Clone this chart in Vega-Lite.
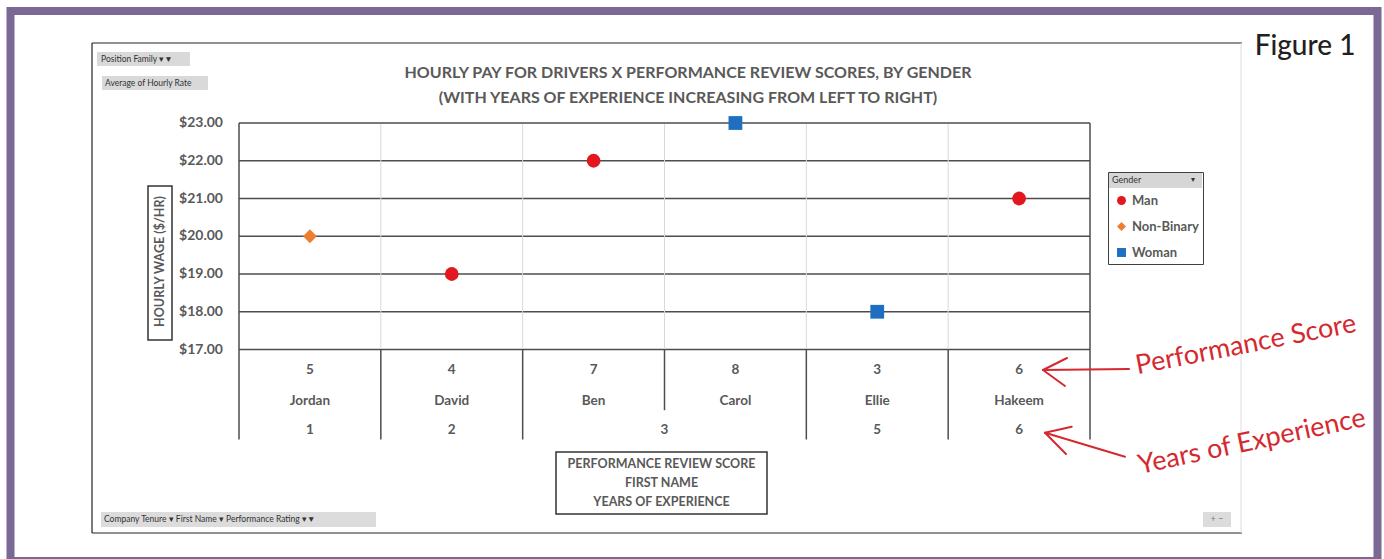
{
  "$schema": "https://vega.github.io/schema/vega-lite/v6.json",
  "width": 1367,
  "height": 550,
  "autosize": {"type": "none"},
  "padding": {"left": 10.5, "top": 11, "right": 6.5, "bottom": 0},
  "background": "white",
  "title": {
    "text": ["HOURLY PAY FOR DRIVERS X PERFORMANCE REVIEW SCORES, BY GENDER", "(WITH YEARS OF EXPERIENCE INCREASING FROM LEFT TO RIGHT)"],
    "anchor": "middle", "frame": "group", "orient": "top", "offset": -95, "baseline": "top", "dx": -6,
    "font": "Lato", "fontSize": 16, "fontWeight": "bold", "color": "#595959", "lineHeight": 25
  },
  "datasets": {
    "drivers": [
      {"name": "Jordan", "score": 5, "years": 1, "wage": 20, "gender": "Non-Binary"},
      {"name": "David", "score": 4, "years": 2, "wage": 19, "gender": "Man"},
      {"name": "Ben", "score": 7, "years": 3, "wage": 22, "gender": "Man"},
      {"name": "Carol", "score": 8, "years": 3, "wage": 23, "gender": "Woman"},
      {"name": "Ellie", "score": 3, "years": 5, "wage": 18, "gender": "Woman"},
      {"name": "Hakeem", "score": 6, "years": 6, "wage": 21, "gender": "Man"}
    ],
    "ticks": [{"tick": 17}, {"tick": 18}, {"tick": 19}, {"tick": 20}, {"tick": 21}, {"tick": 22}, {"tick": 23}]
  },
  "data": {"name": "drivers"},
  "layer": [
    {
      "data": {"name": "ticks"},
      "mark": {"type": "rule", "color": "#4d4d4d", "strokeWidth": 1.5},
      "encoding": {
        "x": {"datum": "Jordan", "bandPosition": 0, "axis": null,
              "scale": {"type": "band", "domain": ["Jordan", "David", "Ben", "Carol", "Ellie", "Hakeem"], "range": [228.5, 1079.5], "paddingInner": 0, "paddingOuter": 0}},
        "x2": {"datum": "Hakeem", "bandPosition": 1},
        "y": {"field": "tick", "type": "quantitative", "axis": null,
              "scale": {"domain": [17, 23], "range": [338.5, 112], "nice": false, "zero": false}}
      }
    },
    {
      "data": {"name": "ticks"},
      "mark": {"type": "text", "font": "Lato", "fontSize": 14, "fontWeight": "bold", "color": "#595959", "align": "right", "baseline": "middle"},
      "encoding": {
        "x": {"datum": "Jordan", "bandPosition": -0.1128, "axis": null},
        "y": {"field": "tick", "type": "quantitative", "axis": null},
        "text": {"field": "tick", "type": "quantitative", "format": "$.2f"}
      }
    },
    {
      "data": {"values": [{}]},
      "mark": {"type": "text", "text": "HOURLY WAGE ($/HR)", "font": "Lato", "fontSize": 12.5, "fontWeight": "bold", "color": "#595959", "align": "center", "baseline": "middle", "angle": 270},
      "encoding": {"x": {"datum": "Jordan", "bandPosition": -0.557, "axis": null}, "y": {"datum": 19.331, "type": "quantitative", "axis": null}}
    },
    {
      "transform": [{"filter": "datum.name !== 'Jordan'"}],
      "mark": {"type": "rule", "color": "#d9d9d9", "strokeWidth": 1},
      "encoding": {
        "x": {"field": "name", "type": "nominal", "bandPosition": 0, "axis": null},
        "y": {"datum": 17.03, "type": "quantitative", "axis": null},
        "y2": {"datum": 22.97}
      }
    },
    {
      "transform": [{"filter": "datum.name !== 'Jordan' && datum.name !== 'Carol'"}],
      "mark": {"type": "rule", "color": "#4d4d4d", "strokeWidth": 1.5},
      "encoding": {
        "x": {"field": "name", "type": "nominal", "bandPosition": 0, "axis": null},
        "y": {"datum": 17, "type": "quantitative", "axis": null},
        "y2": {"datum": 14.616}
      }
    },
    {
      "transform": [{"filter": "datum.name === 'Carol'"}],
      "mark": {"type": "rule", "color": "#4d4d4d", "strokeWidth": 1.5},
      "encoding": {
        "x": {"field": "name", "type": "nominal", "bandPosition": 0, "axis": null},
        "y": {"datum": 17, "type": "quantitative", "axis": null},
        "y2": {"datum": 15.392}
      }
    },
    {
      "data": {"values": [{}]},
      "mark": {"type": "rule", "color": "#4d4d4d", "strokeWidth": 1.5},
      "encoding": {"x": {"datum": "Jordan", "bandPosition": 0, "axis": null}, "y": {"datum": 23, "type": "quantitative", "axis": null}, "y2": {"datum": 14.616}}
    },
    {
      "data": {"values": [{}]},
      "mark": {"type": "rule", "color": "#4d4d4d", "strokeWidth": 1.5},
      "encoding": {"x": {"datum": "Hakeem", "bandPosition": 1, "axis": null}, "y": {"datum": 23, "type": "quantitative", "axis": null}, "y2": {"datum": 14.616}}
    },
    {
      "mark": {"type": "point", "filled": true, "size": 190, "opacity": 1, "strokeWidth": 0},
      "encoding": {
        "x": {"field": "name", "type": "nominal", "bandPosition": 0.5, "axis": null},
        "y": {"field": "wage", "type": "quantitative", "axis": null},
        "color": {"field": "gender", "type": "nominal",
                  "scale": {"domain": ["Man", "Non-Binary", "Woman"], "range": ["#e3171f", "#ed7d31", "#1f6fc1"]},
                  "legend": {"title": "Gender", "orient": "none", "legendX": 1097.5, "legendY": 161, "padding": 4, "strokeColor": "#404040",
                             "titleFont": "Lato", "titleFontSize": 9, "titleFontWeight": "normal", "titleColor": "#333333", "titlePadding": 9,
                             "labelFont": "Lato", "labelFontSize": 13, "labelFontWeight": "bold", "labelColor": "#595959", "labelOffset": 4,
                             "symbolSize": 80, "symbolStrokeWidth": 0, "rowPadding": 12, "symbolOffset": 3}},
        "shape": {"field": "gender", "type": "nominal",
                  "scale": {"domain": ["Man", "Non-Binary", "Woman"], "range": ["circle", "diamond", "square"]},
                  "legend": {"title": "Gender", "orient": "none", "legendX": 1097.5, "legendY": 161, "padding": 4, "strokeColor": "#404040",
                             "titleFont": "Lato", "titleFontSize": 9, "titleFontWeight": "normal", "titleColor": "#333333", "titlePadding": 9,
                             "labelFont": "Lato", "labelFontSize": 13, "labelFontWeight": "bold", "labelColor": "#595959", "labelOffset": 4,
                             "symbolSize": 80, "symbolStrokeWidth": 0, "rowPadding": 12, "symbolOffset": 3}}
      }
    },
    {
      "mark": {"type": "text", "font": "Lato", "fontSize": 13.5, "fontWeight": "bold", "color": "#595959", "baseline": "middle", "align": "center"},
      "encoding": {"x": {"field": "name", "type": "nominal", "bandPosition": 0.5, "axis": null}, "y": {"datum": 16.452, "type": "quantitative", "axis": null}, "text": {"field": "score", "type": "nominal"}}
    },
    {
      "mark": {"type": "text", "font": "Lato", "fontSize": 13.5, "fontWeight": "bold", "color": "#595959", "baseline": "middle", "align": "center"},
      "encoding": {"x": {"field": "name", "type": "nominal", "bandPosition": 0.5, "axis": null}, "y": {"datum": 15.63, "type": "quantitative", "axis": null}, "text": {"field": "name", "type": "nominal"}}
    },
    {
      "transform": [{"filter": "datum.name !== 'Ben' && datum.name !== 'Carol'"}],
      "mark": {"type": "text", "font": "Lato", "fontSize": 13.5, "fontWeight": "bold", "color": "#595959", "baseline": "middle", "align": "center"},
      "encoding": {"x": {"field": "name", "type": "nominal", "bandPosition": 0.5, "axis": null}, "y": {"datum": 14.862, "type": "quantitative", "axis": null}, "text": {"field": "years", "type": "nominal"}}
    },
    {
      "transform": [{"filter": "datum.name === 'Ben'"}],
      "mark": {"type": "text", "font": "Lato", "fontSize": 13.5, "fontWeight": "bold", "color": "#595959", "baseline": "middle", "align": "center"},
      "encoding": {"x": {"field": "name", "type": "nominal", "bandPosition": 1, "axis": null}, "y": {"datum": 14.862, "type": "quantitative", "axis": null}, "text": {"field": "years", "type": "nominal"}}
    },
    {
      "data": {"values": [{}]},
      "mark": {"type": "rule", "color": "#222222", "strokeWidth": 1.2},
      "encoding": {"x": {"datum": "Jordan", "bandPosition": -1.0364, "axis": null}, "x2": {"datum": "Jordan", "bandPosition": 7.0717}, "y": {"datum": 25.119, "type": "quantitative", "axis": null}}
    },
    {
      "data": {"values": [{}]},
      "mark": {"type": "rule", "color": "#222222", "strokeWidth": 1.2},
      "encoding": {"x": {"datum": "Jordan", "bandPosition": -1.0364, "axis": null}, "x2": {"datum": "Jordan", "bandPosition": 7.0717}, "y": {"datum": 12.139, "type": "quantitative", "axis": null}}
    },
    {
      "data": {"values": [{}]},
      "mark": {"type": "rule", "color": "#222222", "strokeWidth": 1.2},
      "encoding": {"x": {"datum": "Jordan", "bandPosition": -1.0364, "axis": null}, "y": {"datum": 25.119, "type": "quantitative", "axis": null}, "y2": {"datum": 12.139}}
    },
    {
      "data": {"values": [{}]},
      "mark": {"type": "rule", "color": "#dddddd", "strokeWidth": 1},
      "encoding": {"x": {"datum": "Jordan", "bandPosition": 7.0647, "axis": null}, "y": {"datum": 25.119, "type": "quantitative", "axis": null}, "y2": {"datum": 12.139}}
    },
    {
      "data": {"values": [{}]},
      "mark": {"type": "rect", "filled": false, "stroke": "#333333", "strokeWidth": 1.5},
      "encoding": {"x": {"datum": "Jordan", "bandPosition": -0.6416, "axis": null}, "x2": {"datum": "Jordan", "bandPosition": -0.4724}, "y": {"datum": 21.331, "type": "quantitative", "axis": null}, "y2": {"datum": 17.252}}
    },
    {
      "data": {"values": [{}]},
      "mark": {"type": "rect", "filled": false, "stroke": "#333333", "strokeWidth": 1.5},
      "encoding": {"x": {"datum": "Jordan", "bandPosition": 2.235, "axis": null}, "x2": {"datum": "Jordan", "bandPosition": 3.7227}, "y": {"datum": 14.285, "type": "quantitative", "axis": null}, "y2": {"datum": 12.642}}
    },
    {
      "data": {"values": [{}]},
      "mark": {"type": "text", "text": ["PERFORMANCE REVIEW SCORE", "FIRST NAME", "YEARS OF EXPERIENCE"], "font": "Lato", "fontSize": 12.5, "fontWeight": "bold", "color": "#595959", "lineHeight": 19, "align": "center", "baseline": "middle"},
      "encoding": {"x": {"datum": "Jordan", "bandPosition": 2.9789, "axis": null}, "y": {"datum": 13.967, "type": "quantitative", "axis": null}}
    },
    {
      "data": {"values": [{}]},
      "mark": {"type": "text", "text": "Figure 1", "font": "Lato", "fontSize": 28, "fontWeight": 500, "color": "#231f20", "align": "center", "baseline": "alphabetic"},
      "encoding": {"x": {"datum": "Jordan", "bandPosition": 7.5159, "axis": null}, "y": {"datum": 24.801, "type": "quantitative", "axis": null}}
    },
    {
      "data": {"values": [{}]},
      "mark": {"type": "text", "text": "Performance Score", "font": "Lato", "fontSize": 27, "fontWeight": "normal", "color": "#d42a2f", "align": "center", "baseline": "middle", "angle": 349},
      "encoding": {"x": {"datum": "Jordan", "bandPosition": 7.0999, "axis": null}, "y": {"datum": 17.119, "type": "quantitative", "axis": null}}
    },
    {
      "data": {"values": [{}]},
      "mark": {"type": "text", "text": "Years of Experience", "font": "Lato", "fontSize": 27, "fontWeight": "normal", "color": "#d42a2f", "align": "center", "baseline": "middle", "angle": 348},
      "encoding": {"x": {"datum": "Jordan", "bandPosition": 7.1422, "axis": null}, "y": {"datum": 14.55, "type": "quantitative", "axis": null}}
    },
    {
      "data": {"values": [{}]},
      "mark": {"type": "rule", "color": "#d42a2f", "strokeWidth": 2, "strokeCap": "round"},
      "encoding": {"x": {"datum": "Jordan", "bandPosition": 5.6686, "axis": null}, "x2": {"datum": "Jordan", "bandPosition": 6.275}, "y": {"datum": 16.457, "type": "quantitative", "axis": null}, "y2": {"datum": 16.483}}
    },
    {
      "data": {"values": [{}]},
      "mark": {"type": "rule", "color": "#d42a2f", "strokeWidth": 2, "strokeCap": "round"},
      "encoding": {"x": {"datum": "Jordan", "bandPosition": 5.6686, "axis": null}, "x2": {"datum": "Jordan", "bandPosition": 5.8378}, "y": {"datum": 16.457, "type": "quantitative", "axis": null}, "y2": {"datum": 16.775}}
    },
    {
      "data": {"values": [{}]},
      "mark": {"type": "rule", "color": "#d42a2f", "strokeWidth": 2, "strokeCap": "round"},
      "encoding": {"x": {"datum": "Jordan", "bandPosition": 5.6686, "axis": null}, "x2": {"datum": "Jordan", "bandPosition": 5.8237}, "y": {"datum": 16.457, "type": "quantitative", "axis": null}, "y2": {"datum": 16.033}}
    },
    {
      "data": {"values": [{}]},
      "mark": {"type": "rule", "color": "#d42a2f", "strokeWidth": 2, "strokeCap": "round"},
      "encoding": {"x": {"datum": "Jordan", "bandPosition": 5.6827, "axis": null}, "x2": {"datum": "Jordan", "bandPosition": 6.2468}, "y": {"datum": 14.796, "type": "quantitative", "axis": null}, "y2": {"datum": 14.16}}
    },
    {
      "data": {"values": [{}]},
      "mark": {"type": "rule", "color": "#d42a2f", "strokeWidth": 2, "strokeCap": "round"},
      "encoding": {"x": {"datum": "Jordan", "bandPosition": 5.6827, "axis": null}, "x2": {"datum": "Jordan", "bandPosition": 5.871}, "y": {"datum": 14.796, "type": "quantitative", "axis": null}, "y2": {"datum": 14.955}}
    },
    {
      "data": {"values": [{}]},
      "mark": {"type": "rule", "color": "#d42a2f", "strokeWidth": 2, "strokeCap": "round"},
      "encoding": {"x": {"datum": "Jordan", "bandPosition": 5.6827, "axis": null}, "x2": {"datum": "Jordan", "bandPosition": 5.8308}, "y": {"datum": 14.796, "type": "quantitative", "axis": null}, "y2": {"datum": 14.232}}
    },
    {
      "data": {"values": [{}]},
      "mark": {"type": "rect", "fill": "#d9d9d9"},
      "encoding": {"x": {"datum": "Jordan", "bandPosition": -1.0012, "axis": null}, "x2": {"datum": "Jordan", "bandPosition": -0.3455}, "y": {"datum": 24.881, "type": "quantitative", "axis": null}, "y2": {"datum": 24.51}}
    },
    {
      "data": {"values": [{}]},
      "mark": {"type": "rect", "fill": "#d9d9d9"},
      "encoding": {"x": {"datum": "Jordan", "bandPosition": -0.9659, "axis": null}, "x2": {"datum": "Jordan", "bandPosition": -0.2186}, "y": {"datum": 24.245, "type": "quantitative", "axis": null}, "y2": {"datum": 23.874}}
    },
    {
      "data": {"values": [{}]},
      "mark": {"type": "rect", "fill": "#dcdcdc"},
      "encoding": {"x": {"datum": "Jordan", "bandPosition": -0.973, "axis": null}, "x2": {"datum": "Jordan", "bandPosition": 0.9659}, "y": {"datum": 12.695, "type": "quantitative", "axis": null}, "y2": {"datum": 12.298}}
    },
    {
      "data": {"values": [{}]},
      "mark": {"type": "rect", "fill": "#dcdcdc"},
      "encoding": {"x": {"datum": "Jordan", "bandPosition": 6.7967, "axis": null}, "x2": {"datum": "Jordan", "bandPosition": 6.9941}, "y": {"datum": 12.695, "type": "quantitative", "axis": null}, "y2": {"datum": 12.298}}
    },
    {
      "data": {"values": [{}]},
      "mark": {"type": "rect", "fill": "#d6d6d6"},
      "encoding": {"x": {"datum": "Jordan", "bandPosition": 6.1269, "axis": null}, "x2": {"datum": "Jordan", "bandPosition": 6.7897}, "y": {"datum": 21.702, "type": "quantitative", "axis": null}, "y2": {"datum": 21.278}}
    },
    {
      "data": {"values": [{}]},
      "mark": {"type": "text", "text": "▾", "font": "DejaVu Sans", "fontSize": 8, "color": "#333333", "align": "center", "baseline": "middle"},
      "encoding": {"x": {"datum": "Jordan", "bandPosition": 6.7262, "axis": null}, "y": {"datum": 21.49, "type": "quantitative", "axis": null}}
    },
    {
      "data": {"values": [{}]},
      "mark": {"type": "text", "text": "Position Family   ▾▼", "font": "Lato", "fontSize": 8.5, "color": "#333333", "align": "left", "baseline": "middle"},
      "encoding": {"x": {"datum": "Jordan", "bandPosition": -0.973, "axis": null}, "y": {"datum": 24.695, "type": "quantitative", "axis": null}}
    },
    {
      "data": {"values": [{}]},
      "mark": {"type": "text", "text": "Average of Hourly Rate", "font": "Lato", "fontSize": 8.5, "color": "#333333", "align": "left", "baseline": "middle"},
      "encoding": {"x": {"datum": "Jordan", "bandPosition": -0.9448, "axis": null}, "y": {"datum": 24.06, "type": "quantitative", "axis": null}}
    },
    {
      "data": {"values": [{}]},
      "mark": {"type": "text", "text": "Company Tenure   ▾   First Name   ▾   Performance Rating   ▾▼", "font": "Lato", "fontSize": 8.5, "color": "#333333", "align": "left", "baseline": "middle"},
      "encoding": {"x": {"datum": "Jordan", "bandPosition": -0.9518, "axis": null}, "y": {"datum": 12.497, "type": "quantitative", "axis": null}}
    },
    {
      "data": {"values": [{}]},
      "mark": {"type": "text", "text": "+  −", "font": "Lato", "fontSize": 9, "color": "#777777", "align": "center", "baseline": "middle"},
      "encoding": {"x": {"datum": "Jordan", "bandPosition": 6.8954, "axis": null}, "y": {"datum": 12.497, "type": "quantitative", "axis": null}}
    }
  ],
  "config": {
    "view": {"stroke": "#7a6895", "strokeWidth": 8, "fill": "white"},
    "font": "Lato"
  }
}
